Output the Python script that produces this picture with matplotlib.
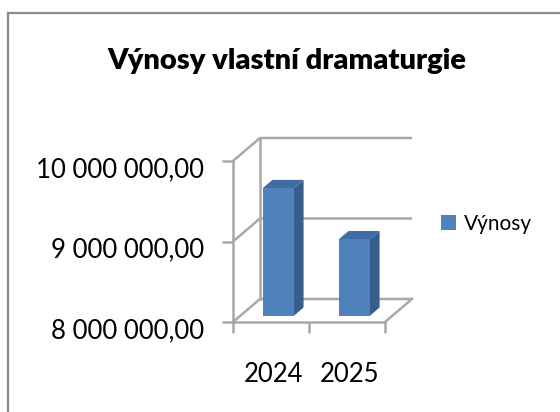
import matplotlib
matplotlib.use("Agg")
import matplotlib.pyplot as plt
from matplotlib.patches import Polygon, Rectangle
from matplotlib.ticker import FuncFormatter
import matplotlib.transforms as mtransforms

# data
years = ["2024", "2025"]
vynosy = [9585000, 8950000]
series_name = "Výnosy"
title = "Výnosy vlastní dramaturgie"
y_min, y_max, y_step = 8000000, 10000000, 1000000

plt.rcParams['font.family'] = ['Lato', 'DejaVu Sans']

front_c = '#4f81bd'
side_c = '#385d8a'
top_c = '#3f6ca3'
grid_c = '#a8a8a8'

fig = plt.figure(figsize=(5.6, 4.12), dpi=100)

# chart frame, only top and left edges are visible in the crop
fig.add_artist(plt.Line2D([8/560, 8/560], [0, 1 - 13/412], transform=fig.transFigure,
                          color='#8c8c8c', lw=1.6))
fig.add_artist(plt.Line2D([8/560, 1], [1 - 13/412, 1 - 13/412], transform=fig.transFigure,
                          color='#8c8c8c', lw=1.6))

ax = fig.add_axes([233/560, 90/412, 152/560, 161/412])
ax.patch.set_visible(False)
ax.set_xlim(-0.5, len(years) - 0.5)
ax.set_ylim(y_min, y_max)

# fake 3d depth (in data units)
dx, dy = 0.355, 0.286 * y_step
x0, x1 = -0.5, len(years) - 0.5
ticks = list(range(y_min, y_max + 1, y_step))

# back wall gridlines + side wall diagonals
for v in ticks:
    ax.plot([x0, x0 + dx, x1 + dx], [v, v + dy, v + dy], color=grid_c, lw=1.8,
            clip_on=False, zorder=1, solid_capstyle='butt')
ax.plot([x0 + dx, x0 + dx], [y_min + dy, y_max + dy], color=grid_c, lw=1.8,
        clip_on=False, zorder=1)
ax.plot([x1, x1 + dx], [y_min, y_min + dy], color=grid_c, lw=1.8, clip_on=False, zorder=1)

# bars
d0, d1 = 0.27, 0.36
w = 0.41
for i, v in enumerate(vynosy):
    xl = i - w / 2 + d0 * dx
    xr = xl + w
    yb = y_min + d0 * dy
    yt = v + d0 * dy
    bx, by = d1 * dx, d1 * dy
    ax.add_patch(Polygon([(xr, yb), (xr + bx, yb + by), (xr + bx, yt + by), (xr, yt)],
                         closed=True, fc=side_c, ec='none', zorder=3, clip_on=False))
    ax.add_patch(Polygon([(xl, yt), (xr, yt), (xr + bx, yt + by), (xl + bx, yt + by)],
                         closed=True, fc=top_c, ec='none', zorder=3, clip_on=False))
    ax.add_patch(Rectangle((xl, yb), w, v - y_min, fc=front_c, ec='none', zorder=4,
                           clip_on=False))

for s in ['top', 'right']:
    ax.spines[s].set_visible(False)
for s in ['left', 'bottom']:
    ax.spines[s].set_color(grid_c)
    ax.spines[s].set_linewidth(1.8)

ax.set_yticks(ticks)
ax.yaxis.set_major_formatter(FuncFormatter(
    lambda v, p: f"{v:,.2f}".replace(",", " ").replace(".", ",")))
ax.tick_params(axis='y', length=8, width=1.8, color=grid_c, pad=13, labelsize=18.5)
for lab in ax.get_yticklabels():
    lab.set_transform(lab.get_transform() +
                      mtransforms.ScaledTranslation(0, -6/100, fig.dpi_scale_trans))

ax.set_xticks(range(len(years)), years)
ax.set_xticks([x0 + k for k in range(len(years) + 1)], minor=True)
ax.tick_params(axis='x', which='major', length=0, pad=29, labelsize=18.5)
ax.tick_params(axis='x', which='minor', length=8, width=1.8, color=grid_c)
for lab in ax.get_xticklabels():
    lab.set_transform(lab.get_transform() +
                      mtransforms.ScaledTranslation(2.5/100, 0, fig.dpi_scale_trans))

fig.text(287/560, 1 - 61/412, title, ha='center', va='center', fontsize=21,
         fontweight='heavy')

fig.legend(handles=[Rectangle((0, 0), 1, 1, fc=front_c)], labels=[series_name],
           loc='center left', bbox_to_anchor=(441/560, 1 - 224/412), frameon=False,
           fontsize=15, handlelength=0.7, handleheight=0.7, handletextpad=0.4,
           borderpad=0, borderaxespad=0)

fig.savefig('out.png', dpi=100)
